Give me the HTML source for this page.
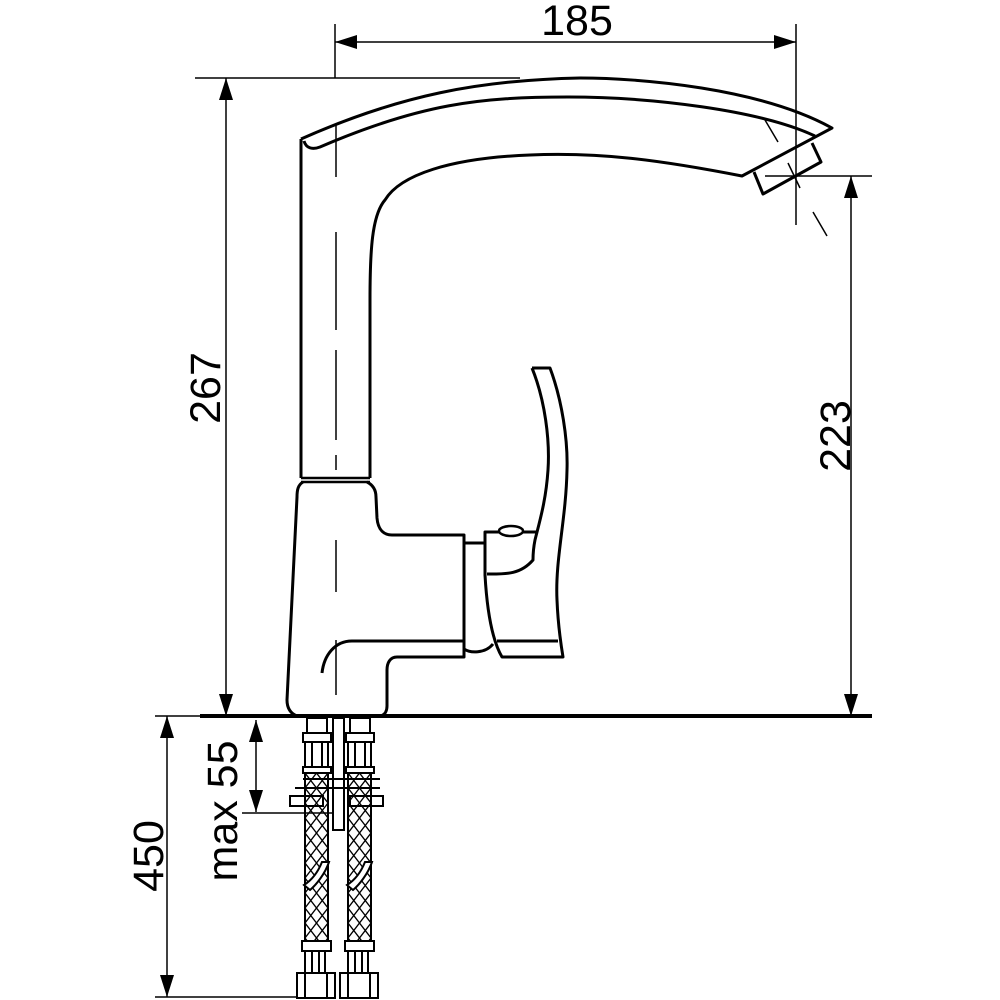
<!DOCTYPE html>
<html><head><meta charset="utf-8"><style>html,body{margin:0;padding:0;background:#fff}svg{display:block}</style></head>
<body>
<svg width="1000" height="1000" viewBox="0 0 1000 1000" xmlns="http://www.w3.org/2000/svg">
<defs>
<pattern id="br" x="305" y="773" width="11.5" height="15" patternUnits="userSpaceOnUse">
<path d="M0,0 L11.5,15 M11.5,0 L0,15" stroke="#000" stroke-width="1.3"/>
</pattern>
</defs>
<g font-family="Liberation Sans, sans-serif" font-size="43" fill="#000">
<text x="577" y="35" text-anchor="middle">185</text>
<text transform="translate(220,388) rotate(-90)" text-anchor="middle">267</text>
<text transform="translate(850,436) rotate(-90)" text-anchor="middle">223</text>
<text transform="translate(163,856) rotate(-90)" text-anchor="middle">450</text>
<text transform="translate(237,811) rotate(-90)" text-anchor="middle">max 55</text>
</g>
<g stroke="#000" stroke-width="1.5" fill="none">
<line x1="335" y1="24" x2="335" y2="78"/>
<line x1="796" y1="24" x2="796" y2="225"/>
<line x1="335" y1="42" x2="796" y2="42"/>
<line x1="195" y1="78" x2="520" y2="78"/>
<line x1="226" y1="78" x2="226" y2="716"/>
<line x1="765" y1="176" x2="872" y2="176"/>
<line x1="851" y1="176" x2="851" y2="716"/>
<line x1="167" y1="716" x2="167" y2="997"/>
<line x1="155" y1="997" x2="330" y2="997"/>
<line x1="155" y1="716" x2="200" y2="716"/>
<line x1="256" y1="720" x2="256" y2="812"/>
<line x1="242" y1="813" x2="337" y2="813"/>
<line x1="336" y1="125" x2="336" y2="177"/>
<line x1="336" y1="232" x2="336" y2="330"/>
<line x1="336" y1="350" x2="336" y2="440"/>
<line x1="336" y1="455" x2="336" y2="470"/>
<line x1="336" y1="540" x2="336" y2="592"/>
<line x1="336" y1="640" x2="336" y2="695"/>
<line x1="765" y1="120" x2="778" y2="142"/>
<line x1="788" y1="163" x2="800" y2="188"/>
<line x1="813" y1="212" x2="827" y2="236"/>
</g>
<g fill="#000">
<path d="M335,42 l22,-7 v14z"/>
<path d="M796,42 l-22,-7 v14z"/>
<path d="M226,78 l-7,22 h14z"/>
<path d="M226,716 l-7,-22 h14z"/>
<path d="M851,176 l-7,22 h14z"/>
<path d="M851,716 l-7,-22 h14z"/>
<path d="M167,716 l-7,22 h14z"/>
<path d="M167,997 l-7,-22 h14z"/>
<path d="M256,720 l-7,22 h14z"/>
<path d="M256,812 l-7,-22 h14z"/>
</g>
<g stroke="#000" stroke-width="3" fill="none" stroke-linejoin="round">
<path d="M301,139 C400,95 480,80 580,78 C640,78 760,88 832,128 L742,176 C660,160 600,152 530,155 C450,158 400,175 385,200 C372,215 370,250 370,300 L370,478"/>
<path d="M301,139 L301,478"/>
<path d="M304,141 C306,148 312,150 320,147 C420,104 480,97 568,97 C650,97 760,110 815,136"/>
<path d="M754,172 L763,194 L821,162 L812,143"/>
<path d="M301,478 L370,478 M301,482 L370,482" stroke-width="2.5"/>
<path d="M303,482 C298,485 297,490 297,497 L287,700 C287,710 292,714 297,716"/>
<path d="M367,482 C373,485 376,490 376,497 L377,518 C378,530 384,535 392,535 L464,535 L464,657 L397,657 C390,657 387,663 387,670 L387,706 C387,712 384,715 381,716"/>
<path d="M322,673 C324,655 335,641 352,641 L464,641"/>
<path d="M464,543 L485,543"/>
<path d="M464,649 C470,653 485,654 493,644"/>
<path d="M532,368 L550,368 C562,400 568,440 567,470 C566,520 555,560 557,600 C558,625 561,645 563,657 L502,657 C492,640 487,610 485,575 L485,532 L538,532"/>
<path d="M532,368 C545,400 550,440 548,470 C546,500 540,520 535,540 C533,550 533,556 533,560 C520,575 505,574 487,574"/>
<path d="M497,641 L558,641"/>
<ellipse cx="511" cy="531" rx="12" ry="5" fill="#fff" stroke-width="2.5"/>
</g>
<line x1="200" y1="716" x2="872" y2="716" stroke="#000" stroke-width="4"/>
<g stroke="#000" stroke-width="2" fill="#fff">
<rect x="333" y="718" width="11" height="112"/>
<g id="hose">
<rect x="307" y="718" width="20" height="15"/>
<rect x="303" y="733" width="28" height="9"/>
<rect x="305" y="742" width="23" height="25"/>
<line x1="312" y1="742" x2="312" y2="767"/><line x1="322" y1="742" x2="322" y2="767"/>
<rect x="303" y="767" width="28" height="6"/>
<rect x="305" y="773" width="23" height="168" fill="url(#br)"/>
<path d="M304,885 C312,880 318,872 322,862 L329,862 C325,874 316,885 310,890 Z" fill="#fff"/>
<rect x="302" y="941" width="29" height="10"/>
<rect x="305" y="951" width="20" height="22"/>
<line x1="312" y1="951" x2="312" y2="973"/><line x1="319" y1="951" x2="319" y2="973"/>
<rect x="297" y="973" width="38" height="25"/>
<line x1="305" y1="973" x2="305" y2="998"/><line x1="327" y1="973" x2="327" y2="998"/>
</g>
<use href="#hose" transform="translate(43,0)"/>
<line x1="303" y1="779" x2="380" y2="779" fill="none"/>
<line x1="295" y1="788" x2="380" y2="788" fill="none"/>
<rect x="290" y="796" width="33" height="10" fill="none"/>
<rect x="350" y="796" width="33" height="10" fill="none"/>
</g>
</svg>
</body></html>
